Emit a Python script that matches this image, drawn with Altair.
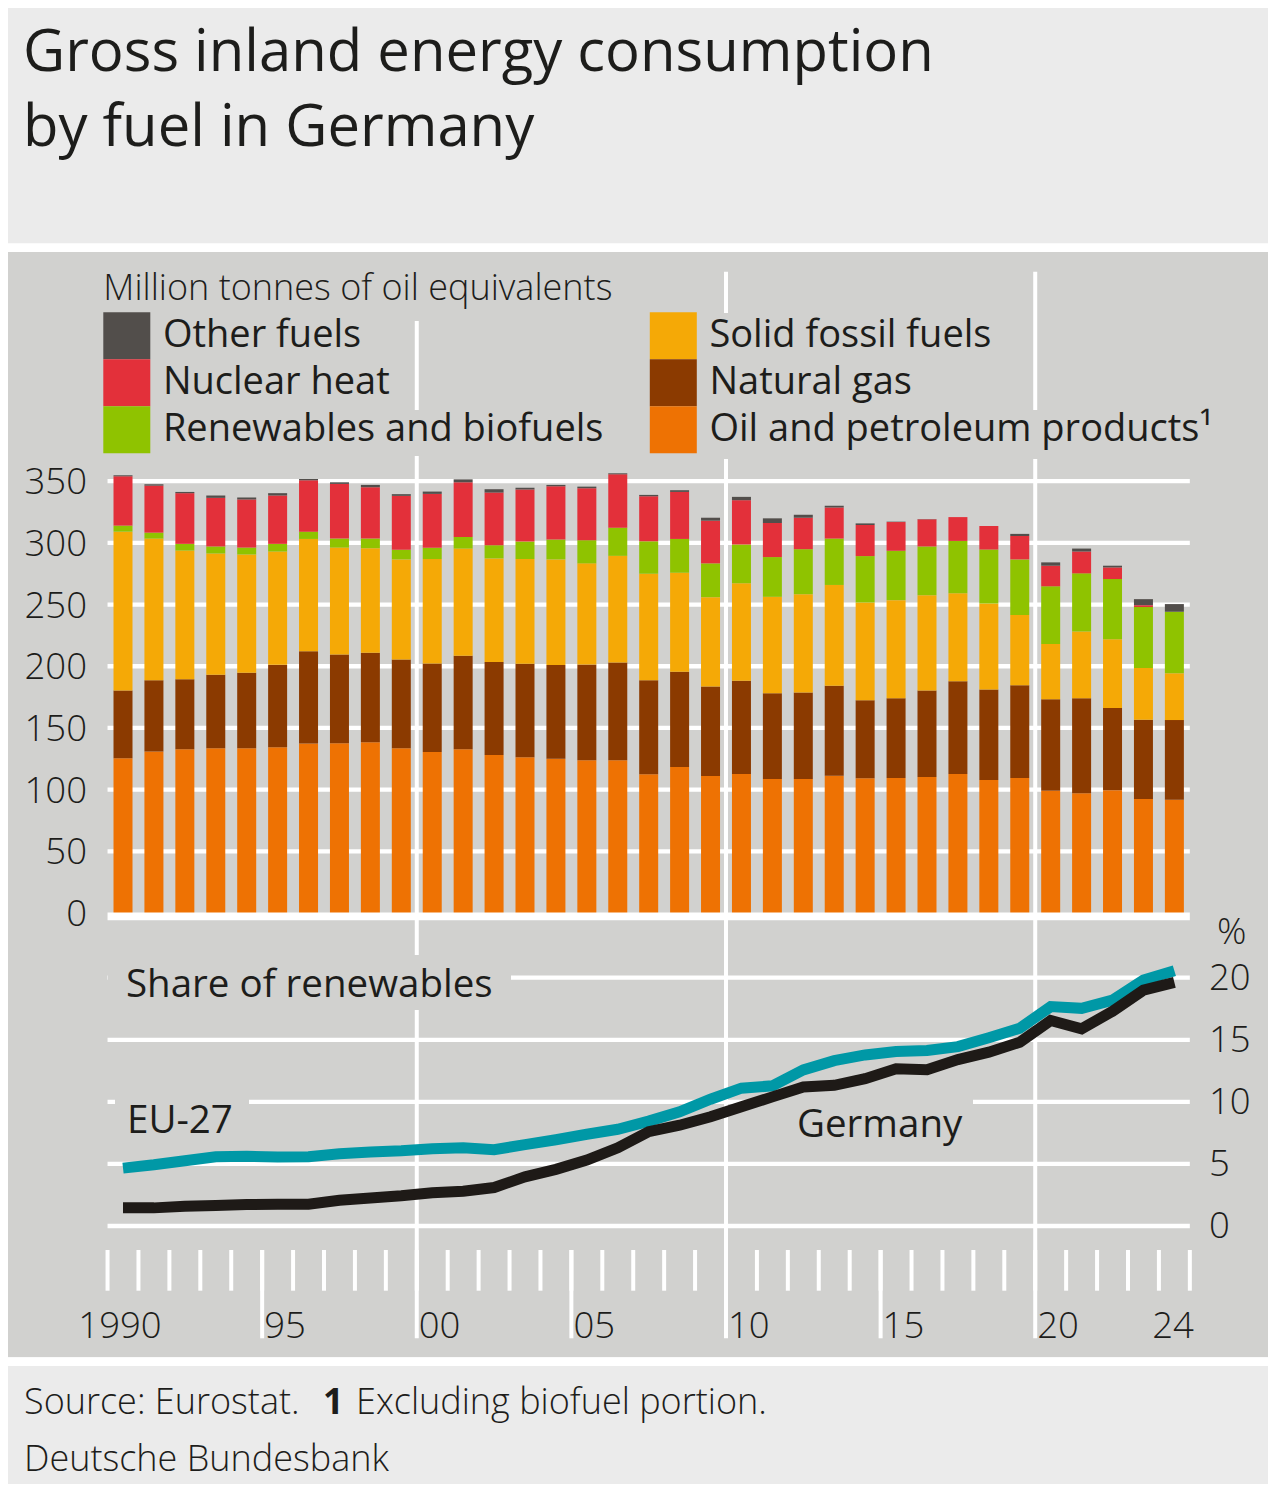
import altair as alt
import pandas as pd

# ---------------- data ----------------
YEARS = list(range(1990, 2025))

OIL = [125.5, 131.0, 132.8, 133.6, 133.6, 134.4, 137.4, 137.6, 138.4, 133.6,
       130.4, 132.8, 128.0, 126.3, 125.0, 123.9, 123.9, 112.4, 118.3, 111.1,
       112.7, 108.6, 108.6, 111.3, 109.2, 109.4, 110.2, 112.7, 107.8, 109.4,
       99.0, 97.1, 99.5, 92.5, 91.7]
GAS = [54.8, 57.6, 56.6, 59.6, 61.2, 66.8, 74.8, 71.9, 72.5, 71.9,
       71.9, 75.7, 75.4, 75.7, 76.0, 77.6, 79.2, 76.2, 77.3, 72.4,
       75.6, 69.5, 70.1, 73.0, 63.3, 64.7, 70.1, 75.1, 73.3, 75.2,
       74.3, 77.0, 66.6, 64.2, 64.7]
SOLID = [128.8, 114.9, 104.4, 98.2, 95.8, 91.8, 91.0, 86.7, 84.8, 81.1,
         84.6, 86.9, 84.0, 84.9, 85.6, 81.9, 86.4, 86.4, 80.2, 72.5,
         79.0, 78.2, 79.7, 81.6, 79.2, 79.5, 77.3, 71.4, 69.8, 56.9,
         44.8, 54.0, 55.8, 41.9, 37.9]
RENEW = [4.9, 4.8, 5.4, 5.7, 5.6, 6.2, 5.9, 7.3, 7.8, 7.8,
         9.1, 9.4, 10.7, 14.2, 16.1, 18.8, 22.8, 26.3, 27.4, 27.4,
         31.4, 32.2, 36.5, 37.6, 37.6, 40.0, 39.5, 42.4, 43.7, 45.1,
         46.7, 47.2, 48.8, 49.4, 49.9]
NUCLEAR = [40.0, 38.1, 41.1, 39.4, 39.0, 39.2, 41.6, 44.3, 41.6, 43.7,
           43.7, 44.3, 42.7, 42.1, 43.2, 42.1, 43.3, 36.5, 38.1, 34.6,
           35.9, 27.6, 25.5, 25.2, 25.2, 23.3, 22.0, 19.3, 19.1, 19.0,
           16.7, 17.7, 9.4, 1.5, 0.0]
OTHER = [0.8, 1.1, 1.0, 1.9, 1.6, 1.9, 1.1, 1.3, 1.9, 1.4,
         1.9, 2.4, 2.7, 1.4, 1.1, 1.3, 0.8, 1.1, 1.4, 2.4,
         2.7, 3.8, 2.4, 1.4, 1.3, 0.3, 0.2, 0.0, 0.0, 1.7,
         2.7, 2.4, 1.4, 4.9, 6.2]

# stacking order: bottom -> top
FUEL_NAMES = ["Oil and petroleum products\u00b9", "Natural gas", "Solid fossil fuels",
              "Renewables and biofuels", "Nuclear heat", "Other fuels"]
FUEL_SERIES = [OIL, GAS, SOLID, RENEW, NUCLEAR, OTHER]
FUEL_COLORS = ["#ee7203", "#8b3a00", "#f5a906", "#8fc300", "#e3303a", "#524e4b"]
# legend order (two columns, filled column by column)
LEGEND_ORDER = ["Other fuels", "Nuclear heat", "Renewables and biofuels",
                "Solid fossil fuels", "Natural gas", "Oil and petroleum products\u00b9"]

SHARE_EU = [4.66, 4.93, 5.26, 5.58, 5.61, 5.55, 5.58, 5.82, 5.96, 6.06,
            6.23, 6.30, 6.15, 6.55, 6.95, 7.39, 7.79, 8.45, 9.20, 10.21,
            11.10, 11.29, 12.57, 13.32, 13.78, 14.05, 14.13, 14.45, 15.17, 15.93,
            17.67, 17.53, 18.20, 19.81, 20.56]
SHARE_DE = [1.46, 1.46, 1.59, 1.65, 1.73, 1.76, 1.76, 2.08, 2.26, 2.43,
            2.67, 2.80, 3.10, 3.96, 4.56, 5.31, 6.30, 7.60, 8.12, 8.80,
            9.60, 10.40, 11.20, 11.33, 11.87, 12.67, 12.59, 13.40, 14.00, 14.80,
            16.55, 15.88, 17.30, 19.00, 19.63]

Y_TICKS_BAR = [0, 50, 100, 150, 200, 250, 300, 350]
Y_TICKS_SHARE = [0, 5, 10, 15, 20]
X_LABEL_YEARS = [1990, 1995, 2000, 2005, 2010, 2015, 2020, 2024]
X_LABEL_TEXT = ["1990", "95", "00", "05", "10", "15", "20", "24"]
TICK_YEARS = list(range(1990, 2026))
MID_YEARS = [1995, 2005, 2015]
MAJOR_YEARS = [2000, 2010, 2020]

# ---------------- styling / layout ----------------
FONT = "Open Sans"
TXT = "#1d1d1b"
PANEL = "#d1d1cf"
BG = "#ebebeb"
WHITE = "#ffffff"
TEAL = "#0098a6"
BLACK = "#1e1a17"
TICK_FS = 36.5

W, H = 1260, 1105
PAD_T, PAD_B = 244, 127
OX, OY = 8, 252


def px(x):
    return x - OX


def py(y):
    return y - OY


X1990 = px(103.3)
PPY = 31.17
XDOM = [1990 - X1990 / PPY, 1990 + (W - X1990) / PPY]
B0 = py(913.0)
BPU = (913.0 - 481.2) / 350
YB_DOM = [-(H - B0) / BPU, B0 / BPU]
L0 = py(1226.0)
LPU = (1226.0 - 977.7) / 20
YL_DOM = [-(H - L0) / LPU, L0 / LPU]

XS = alt.Scale(domain=XDOM, nice=False, zero=False)
YB = alt.Scale(domain=YB_DOM, nice=False, zero=False)
YL = alt.Scale(domain=YL_DOM, nice=False, zero=False)

ONE = pd.DataFrame({"k": [0]})

# ---------------- tables ----------------
bar_rows = []
for rank, (name, series) in enumerate(zip(FUEL_NAMES, FUEL_SERIES)):
    for yr, v in zip(YEARS, series):
        bar_rows.append({"year": yr, "fuel": name, "value": v, "rank": rank})
bar_df = pd.DataFrame(bar_rows)
color_of = dict(zip(FUEL_NAMES, FUEL_COLORS))
legend_colors = [color_of[n] for n in LEGEND_ORDER]

share_df = pd.DataFrame({"year": YEARS, "eu": SHARE_EU, "de": SHARE_DE})

# x labels: first centred on its bar, last flush right at the end of the axis,
# the others just right of their tick
xl_rows = []
for i, (yr, t) in enumerate(zip(X_LABEL_YEARS, X_LABEL_TEXT)):
    if i == 0:
        xl_rows.append({"pos": yr + 0.5, "t": t, "al": "center"})
    elif i == len(X_LABEL_YEARS) - 1:
        xl_rows.append({"pos": yr + 1, "t": t, "al": "right"})
    else:
        xl_rows.append({"pos": yr, "t": t, "al": "left"})
xl_df = pd.DataFrame(xl_rows)

legend = alt.Legend(
    title="Million tonnes of oil equivalents", orient="none", legendX=X1990, legendY=19.6,
    columns=2, symbolType="square", symbolSize=47 * 47, symbolStrokeWidth=0, symbolOpacity=1,
    labelFont=FONT, labelFontSize=38, labelColor=TXT, labelOffset=12.6, labelLimit=1000,
    titleFont=FONT, titleFontSize=36, titleFontWeight=300, titleColor=TXT, titlePadding=4.7,
    titleLimit=1000, titleAnchor="start", rowPadding=0, columnPadding=45.5, padding=0,
    gridAlign="each",
)


# ---------------- helpers for decoration ----------------
def hband(y_page, width):
    return alt.Chart(ONE).mark_rule(color=WHITE, strokeWidth=width).encode(
        x=alt.value(-OX), x2=alt.value(W + OX), y=alt.value(py(y_page)))


def knock(x1, y1, x2, y2):
    return alt.Chart(ONE).mark_rect(color=PANEL).encode(
        x=alt.value(px(x1)), x2=alt.value(px(x2)), y=alt.value(py(y1)), y2=alt.value(py(y2)))


def label(s, x, y, size, weight=400):
    return alt.Chart(ONE).mark_text(
        text=s, font=FONT, fontSize=size, fontWeight=weight, color=TXT,
        align="left", baseline="alphabetic").encode(x=alt.value(px(x)), y=alt.value(py(y)))


def vticks(years, y1, y2):
    return alt.Chart(pd.DataFrame({"yr": years})).mark_rule(color=WHITE, strokeWidth=4).encode(
        x=alt.X("yr:Q", scale=XS, axis=None), y=alt.value(py(y1)), y2=alt.value(py(y2)))


def xlabels(al, dx):
    return alt.Chart(xl_df).transform_filter(f"datum.al == '{al}'").mark_text(
        font=FONT, fontSize=TICK_FS, fontWeight=300, color=TXT, align=al,
        baseline="alphabetic", dx=dx).encode(
        x=alt.X("pos:Q", scale=XS, axis=None), y=alt.value(py(1338.3)), text="t:N")


# ---------------- group A: bar panel ----------------
bar_grid = alt.Chart(pd.DataFrame({"v": Y_TICKS_BAR[1:]})).mark_rule(
    color=WHITE, strokeWidth=4.3).encode(
    x=alt.datum(1990, scale=XS, axis=None), x2=alt.datum(2025),
    y=alt.Y("v:Q", scale=YB, axis=None))

bars = alt.Chart(bar_df).transform_calculate(xc="datum.year + 0.5").mark_bar(size=19).encode(
    x=alt.X("xc:Q", scale=XS, axis=None),
    y=alt.Y("value:Q", stack="zero", scale=YB, axis=None),
    color=alt.Color("fuel:N", scale=alt.Scale(domain=LEGEND_ORDER, range=legend_colors), legend=legend),
    order=alt.Order("rank:Q", sort="ascending"),
)

zero_line = alt.Chart(pd.DataFrame({"v": [0]})).mark_rule(color=WHITE, strokeWidth=7.7).encode(
    x=alt.datum(1990, scale=XS, axis=None), x2=alt.datum(2025),
    y=alt.Y("v:Q", scale=YB, axis=None), yOffset=alt.value(3.4))

bar_ylabels = alt.Chart(pd.DataFrame({"v": Y_TICKS_BAR})).mark_text(
    font=FONT, fontSize=TICK_FS, fontWeight=300, color=TXT, align="right",
    baseline="middle", dy=2).encode(
    x=alt.value(px(87)), y=alt.Y("v:Q", scale=YB, axis=None), text=alt.Text("v:Q", format="d"))

group_a = alt.layer(
    hband(247.6, 8.7),
    hband(1361.6, 8.7),
    vticks(MAJOR_YEARS, 271.7, 1338.3),
    bar_grid,
    knock(100, 262, 650, 321),
    knock(158, 410, 622, 456),
    knock(705, 313, 1005, 362),
    knock(705, 360, 925, 410),
    knock(705, 410, 1220, 459),
    bars,
    zero_line,
    bar_ylabels,
    xlabels("center", -3),
    xlabels("left", 2),
    xlabels("right", 4),
)

# ---------------- group B: share panel ----------------
share_grid = alt.Chart(pd.DataFrame({"v": Y_TICKS_SHARE})).mark_rule(
    color=WHITE, strokeWidth=4.3).encode(
    x=alt.datum(1990, scale=XS, axis=None), x2=alt.datum(2025),
    y=alt.Y("v:Q", scale=YL, axis=None))

eu_line = alt.Chart(share_df).transform_calculate(xc="datum.year + 0.5").mark_line(
    color=TEAL, strokeWidth=11).encode(
    x=alt.X("xc:Q", scale=XS, axis=None),
    y=alt.Y("eu:Q", scale=YL, axis=None))
de_line = alt.Chart(share_df).transform_calculate(xc="datum.year + 0.5").mark_line(
    color=BLACK, strokeWidth=11).encode(
    x=alt.X("xc:Q", scale=XS, axis=None),
    y=alt.Y("de:Q", scale=YL, axis=None))

share_ylabels = alt.Chart(pd.DataFrame({"v": Y_TICKS_SHARE})).mark_text(
    font=FONT, fontSize=TICK_FS, fontWeight=300, color=TXT, align="left",
    baseline="middle", dy=1).encode(
    x=alt.value(px(1209)), y=alt.Y("v:Q", scale=YL, axis=None), text=alt.Text("v:Q", format="d"))

group_b = alt.layer(
    share_grid,
    vticks(TICK_YEARS, 1250, 1290.7),
    vticks(MID_YEARS, 1250, 1338.3),
    knock(108, 955, 511, 1010),
    knock(115, 1092, 249, 1142),
    knock(765, 1095, 973, 1150),
    eu_line,
    de_line,
    share_ylabels,
    label("Share of renewables", 126, 996.7, 38.5),
    label("EU-27", 127, 1132.7, 38.5),
    label("Germany", 797, 1136.7, 38.5),
    label("%", 1217, 944, TICK_FS, 300),
    label("Gross inland energy consumption", 23, 70.5, 58),
    label("by fuel in Germany", 23, 146, 58),
    label("Source: Eurostat.", 24, 1414.3, 36, 300),
    label("1", 323, 1414.3, 36, 700),
    label("Excluding biofuel portion.", 356, 1414.3, 36, 300),
    label("Deutsche Bundesbank", 24, 1470.7, 36, 300),
)

chart = alt.layer(group_a, group_b).resolve_scale(y="independent").properties(
    width=W, height=H,
    padding={"left": 0, "top": PAD_T, "right": 0, "bottom": PAD_B},
    autosize=alt.AutoSizeParams(type="none"),
    background=BG,
).configure_view(fill=PANEL, stroke=None)

chart.save("out.html", embed_options={"renderer": "svg", "actions": False})
